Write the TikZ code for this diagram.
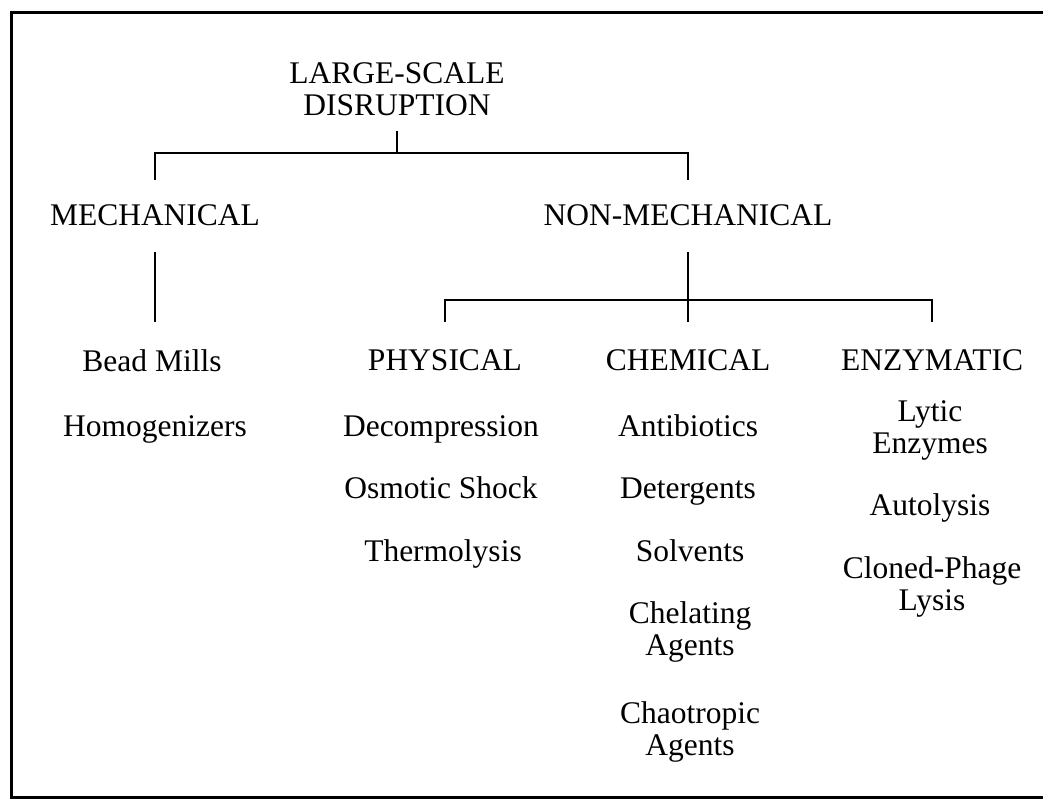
\documentclass[tikz,border=0pt]{standalone}
\usepackage{fontspec}
\setmainfont{Liberation Serif}
\usetikzlibrary{positioning}

\begin{document}
\begin{tikzpicture}[x=1pt, y=-1pt, line width=2.6pt,
  lbl/.style={inner sep=0pt, align=center, font=\fontsize{31.5}{32}\selectfont},
  row/.style={lbl, anchor=base}]

\useasboundingbox (0,0) rectangle (1044,799);

% frame, open on the right
\draw[line width=3pt] (1043,13) -- (11,13) -- (11,797) -- (1043,797);

% levels
\node[lbl] (root) at (397,89) {LARGE-SCALE\\DISRUPTION};
\node[row] (mech) at (155,225.5) {MECHANICAL};
\node[row] (nonmech) at (688,225.5) {NON-MECHANICAL};
\node[row] (phys) at (445,371) {PHYSICAL};
\node[row] (chem) at (688,371) {CHEMICAL};
\node[row] (enz) at (932,371) {ENZYMATIC};

% methods
\node[row] (bead) at (152,372) {Bead Mills};
\node[row] (homog) at (155,436) {Homogenizers};
\node[row] (decomp) at (441,436) {Decompression};
\node[row] (osmo) at (441,498) {Osmotic Shock};
\node[row] (thermo) at (443,561) {Thermolysis};
\node[row] (antib) at (688,436) {Antibiotics};
\node[row] (deterg) at (688,498) {Detergents};
\node[row] (solv) at (690,561) {Solvents};
\node[lbl] (chel) at (690,632) {Chelating\\Agents};
\node[lbl] (chao) at (690,732) {Chaotropic\\Agents};
\node[lbl] (lytic) at (930,430) {Lytic\\Enzymes};
\node[row] (auto) at (930,515) {Autolysis};
\node[lbl] (cloned) at (932,587) {Cloned-Phage\\Lysis};

% brackets
\coordinate (top) at (397,153);
\coordinate (mid) at (688,300);
\draw[shorten <=14pt] (root) -- (top);
\draw[shorten <=23pt, shorten >=23pt] (mech) |- (top) -| (nonmech);
\draw[shorten <=25pt, shorten >=27pt] (mech) -- (mech |- bead.north);
\draw[shorten <=25pt, shorten >=27pt] (nonmech) -- (chem);
\draw[shorten <=27pt, shorten >=27pt] (phys) |- (mid) -| (enz);

\end{tikzpicture}
\end{document}
